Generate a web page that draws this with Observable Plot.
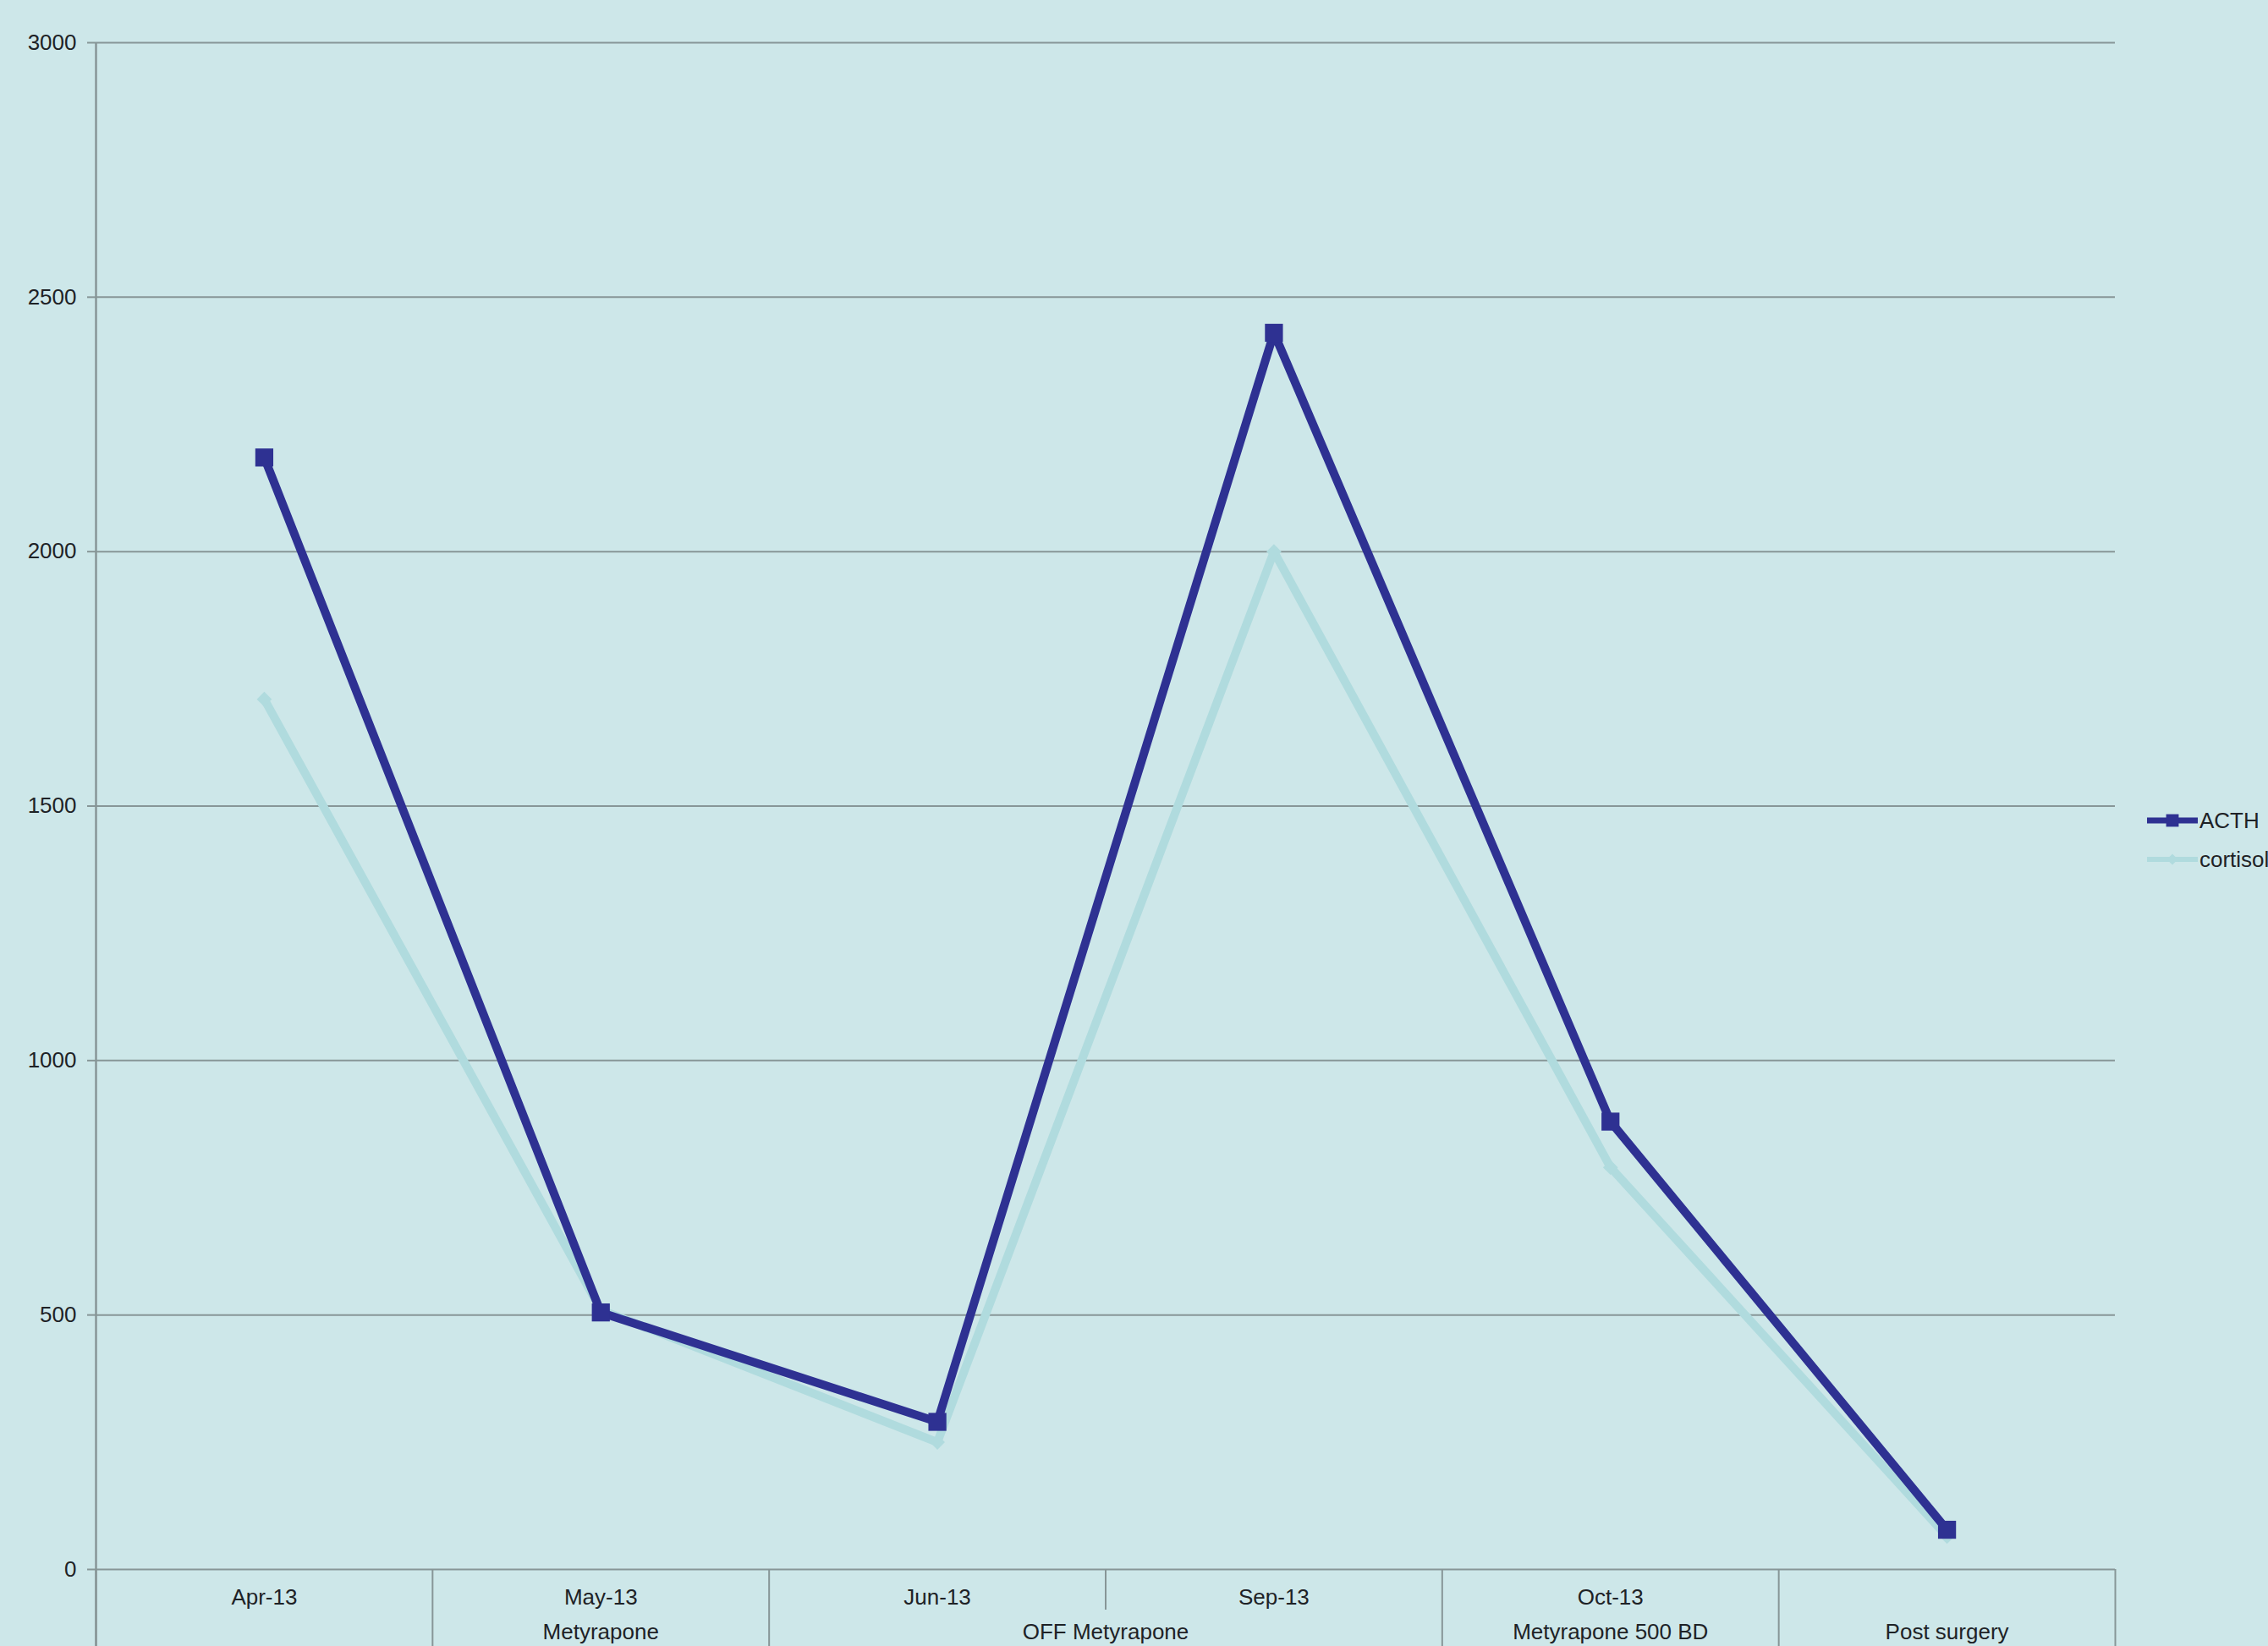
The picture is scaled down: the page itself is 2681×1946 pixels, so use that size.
<!DOCTYPE html>
<html><head><meta charset="utf-8">
<script src="https://cdn.jsdelivr.net/npm/d3@7"></script>
<script src="https://cdn.jsdelivr.net/npm/@observablehq/plot@0.6"></script>
<style>
html,body{margin:0;padding:0;background:#cde7e9;}
#wrap{position:relative;width:2681px;height:1946px;overflow:hidden;background:#cde7e9;}
#legend{position:absolute;left:2536px;top:950px;font-family:"Liberation Sans",Arial,sans-serif;font-size:26px;color:#1e2226;}
</style></head><body><div id="wrap"></div>
<script>
// ---- data ----
const categories = ["Apr-13", "May-13", "Jun-13", "Sep-13", "Oct-13", "Post surgery"];
const monthLabels = ["Apr-13", "May-13", "Jun-13", "Sep-13", "Oct-13", ""];
const acth = [2185, 505, 290, 2430, 880, 78];
const cortisol = [1710, 510, 250, 2000, 790, 65];
const groupLabels = ["", "Metyrapone", "OFF Metyrapone", "Metyrapone 500 BD", "Post surgery"];
const groupStart = [0, 1, 2, 4, 5];
const groupEnd = [0, 1, 3, 4, 5];
const yTicks = [0, 500, 1000, 1500, 2000, 2500, 3000];
const seriesNames = ["ACTH", "cortisol"];

// ---- derived tables ----
const idx = categories.map((_, i) => i);
const acthData = idx.map(i => ({i, v: acth[i]}));
const cortData = idx.map(i => ({i, v: cortisol[i]}));
const months = idx.map(i => ({i, label: monthLabels[i]}));
const groups = groupLabels.map((label, k) => ({label, c: (groupStart[k] + groupEnd[k]) / 2}));
const longB = new Set();
groupStart.forEach(s => longB.add(s - 0.5));
groupEnd.forEach(e => longB.add(e + 0.5));
const boundaries = d3.range(categories.length + 1).map(k => k - 0.5);
const longSep = boundaries.filter(b => longB.has(b));
const shortSep = boundaries.filter(b => !longB.has(b));

const W = 2681, H = 1946, mT = 50, mB = 91, mL = 113, mR = 181;
const frameH = H - mT - mB;
const ACTH_C = "#2e3192", CORT_C = "#b0dbde", GRID_C = "#879697", TXT = "#1e2226";

const chart = Plot.plot({
  width: W, height: H,
  marginTop: mT, marginBottom: mB, marginLeft: mL, marginRight: mR,
  style: {background: "#cde7e9", fontFamily: "'Liberation Sans', Arial, sans-serif", fontSize: "26px", color: TXT},
  x: {type: "linear", domain: [-0.5, categories.length - 0.5], axis: null, label: null},
  y: {domain: [0, 3000], axis: null, label: null},
  marks: [
    Plot.ruleY(yTicks, {stroke: GRID_C, strokeWidth: 2}),
    Plot.axisY({ticks: yTicks, tickSize: 10, tickPadding: 13, tickFormat: d => String(d), stroke: GRID_C, fill: TXT, fontSize: 26, strokeWidth: 2, label: null}),
    Plot.ruleX(longSep, {stroke: GRID_C, strokeWidth: 2, insetTop: frameH, insetBottom: -mB}),
    Plot.ruleX(shortSep, {stroke: GRID_C, strokeWidth: 2, insetTop: frameH, insetBottom: -48}),
    Plot.ruleX([-0.5], {stroke: GRID_C, strokeWidth: 2.5, insetBottom: -mB}),
    Plot.line(cortData, {x: "i", y: "v", stroke: CORT_C, strokeWidth: 10}),
    Plot.dot(cortData, {x: "i", y: "v", symbol: "diamond2", r: 8, fill: CORT_C, stroke: "none"}),
    Plot.line(acthData, {x: "i", y: "v", stroke: ACTH_C, strokeWidth: 10}),
    Plot.dot(acthData, {x: "i", y: "v", symbol: "square", r: 12, fill: ACTH_C, stroke: "none"}),
    Plot.text(months, {x: "i", text: "label", frameAnchor: "bottom", dy: 33, lineAnchor: "middle", fill: TXT, fontSize: 26}),
    Plot.text(groups, {x: "c", text: "label", frameAnchor: "bottom", dy: 74, lineAnchor: "middle", fill: TXT, fontSize: 26})
  ]
});
const wrap = document.getElementById("wrap");
wrap.appendChild(chart);

// legend
const leg = d3.select(wrap).append("div").attr("id", "legend");
const svg = leg.append("svg").attr("width", 150).attr("height", 100).style("overflow", "visible");
const rows = [
  {name: seriesNames[0], c: ACTH_C, w: 7, sym: d3.symbolSquare, size: 220},
  {name: seriesNames[1], c: CORT_C, w: 6, sym: d3.symbolDiamond2, size: 110}
];
rows.forEach((r, k) => {
  const y = 20 + k * 46;
  svg.append("line").attr("x1", 2).attr("x2", 62).attr("y1", y).attr("y2", y).attr("stroke", r.c).attr("stroke-width", r.w);
  svg.append("path").attr("d", d3.symbol(r.sym, r.size)()).attr("transform", `translate(32,${y})`).attr("fill", r.c);
  svg.append("text").attr("x", 64).attr("y", y).attr("dy", "0.35em").attr("fill", TXT)
    .style("font-family", "'Liberation Sans', Arial, sans-serif").style("font-size", "26px").text(r.name);
});
</script>
</body></html>
